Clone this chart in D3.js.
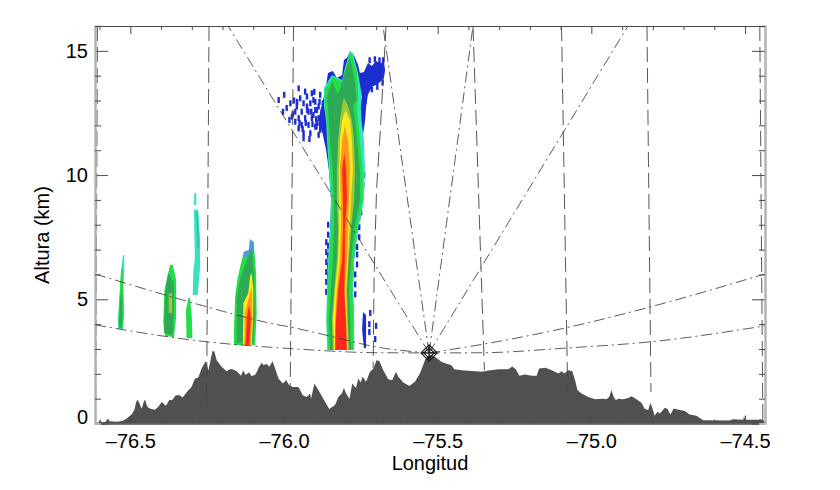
<!DOCTYPE html>
<html><head><meta charset="utf-8">
<script src="https://cdn.jsdelivr.net/npm/d3@7"></script>
<style>html,body{margin:0;background:#fff}svg{display:block}text{font-family:"Liberation Sans",Arial,sans-serif;fill:#000}</style>
</head><body><svg id="c" width="840" height="490"></svg>
<script>
const lonTicks=[-76.5,-76,-75.5,-75,-74.5];
const lonTickLabels=["–76.5","–76.0","–75.5","–75.0","–74.5"];
const altTicks=[0,5,10,15];
const altMinorTicks=[1,2,3,4,6,7,8,9,11,12,13,14,16];
const lonMinorTicks=[-76.6,-76.4,-76.3,-76.2,-76.1,-75.9,-75.8,-75.7,-75.6,-75.4,-75.3,-75.2,-75.1,-74.9,-74.8,-74.7,-74.6];
const xTitle="Longitud", yTitle="Altura (km)";

const terrainLon=[-76.615,-76.604,-76.598,-76.593,-76.580,-76.574,-76.567,-76.550,-76.537,-76.523,-76.512,-76.496,-76.487,-76.481,-76.476,-76.470,-76.463,-76.456,-76.452,-76.447,-76.442,-76.431,-76.420,-76.409,-76.398,-76.391,-76.384,-76.374,-76.363,-76.352,-76.339,-76.330,-76.314,-76.301,-76.290,-76.279,-76.268,-76.255,-76.246,-76.233,-76.227,-76.219,-76.203,-76.187,-76.176,-76.168,-76.154,-76.140,-76.133,-76.125,-76.114,-76.105,-76.092,-76.081,-76.073,
-76.067,-76.056,-76.048,-76.037,-76.029,-76.018,-76.004,-75.993,-75.983,-75.972,-75.953,-75.939,-75.926,-75.915,-75.912,-75.901,-75.888,-75.872,-75.853,-75.834,-75.823,-75.812,-75.805,-75.798,-75.787,-75.778,-75.766,-75.758,-75.751,-75.744,-75.733,-75.720,-75.709,-75.699,-75.690,-75.677,-75.661,-75.648,-75.636,-75.628,-75.612,-75.592,-75.574,-75.558,-75.547,-75.539,-75.525,
-75.508,-75.487,-75.471,-75.456,-75.446,-75.422,-75.400,-75.357,-75.335,-75.302,-75.270,-75.257,-75.246,-75.234,-75.216,-75.194,-75.178,-75.170,-75.149,-75.129,-75.107,-75.097,-75.088,-75.075,-75.062,-75.053,-75.045,-75.032,-75.010,-74.988,
-74.962,-74.951,-74.942,-74.935,-74.927,-74.920,-74.913,-74.897,-74.880,-74.869,-74.853,-74.837,-74.826,-74.815,-74.808,-74.801,-74.794,-74.785,-74.777,-74.770,-74.761,-74.752,-74.743,-74.732,-74.712,-74.696,-74.680,-74.658,-74.636,-74.550,-74.539,-74.506,-74.503,-74.500,-74.463,-74.441,-74.435];
const terrainAlt=[0.04,0.04,0.12,0.05,0.07,0.20,0.09,0.07,0.08,0.12,0.20,0.36,0.54,0.87,0.96,0.80,0.58,0.90,0.96,0.74,0.63,0.58,0.55,0.67,0.87,0.78,0.71,0.94,0.96,1.14,1.14,1.05,1.30,1.47,1.80,1.85,2.21,2.51,2.13,2.91,2.91,2.55,2.28,2.10,2.18,2.18,2.10,1.92,2.13,1.95,2.06,1.90,1.98,2.28,2.45,
2.35,2.40,2.28,2.51,2.21,1.81,1.61,1.74,1.54,1.47,1.47,1.14,1.07,1.21,1.00,1.61,1.34,1.00,0.58,0.74,1.07,1.21,1.43,1.21,1.00,1.61,1.43,1.81,1.65,1.88,1.68,2.08,2.21,2.55,2.52,2.14,1.78,1.74,2.08,1.88,1.65,1.51,1.68,2.01,2.35,2.64,2.77,
2.68,2.48,2.41,2.35,2.18,2.14,2.12,2.08,2.13,2.18,2.18,2.29,2.18,1.92,1.97,1.92,1.92,2.21,2.24,2.14,2.01,2.10,2.01,2.14,2.10,1.74,1.34,1.21,1.07,0.98,
1.00,0.98,1.07,1.34,1.07,0.94,1.00,0.98,1.03,1.10,0.98,0.84,0.58,0.54,0.84,0.60,0.31,0.47,0.40,0.50,0.63,0.58,0.36,0.60,0.54,0.50,0.36,0.31,0.13,0.12,0.17,0.15,0.31,0.15,0.15,0.17,0];

const mainLevels=[2.96,4.17,5.37,6.58,7.79,9.0,10.2,11.4,12.2,12.8];
const tealLeft=[-75.860,-75.863,-75.860,-75.857,-75.850,-75.847,-75.854,-75.860,-75.863,-75.870];
const tealRight=[-75.772,-75.772,-75.776,-75.772,-75.760,-75.740,-75.737,-75.740,-75.748,-75.750];
const tealTop=[[-75.870,13.51],[-75.844,14.03],[-75.811,13.83],[-75.802,14.31],[-75.785,15.0],[-75.776,14.88],[-75.759,14.11],[-75.746,13.15]];
const greenLeft=[-75.857,-75.860,-75.857,-75.854,-75.847,-75.844,-75.850,-75.857,-75.860,-75.867];
const greenRight=[-75.774,-75.774,-75.778,-75.775,-75.763,-75.744,-75.744,-75.753,-75.759,-75.763];
const greenTop=[[-75.867,13.43],[-75.841,13.95],[-75.811,13.75],[-75.802,14.23],[-75.785,14.92],[-75.779,14.84],[-75.763,14.11],[-75.759,13.15]];
const darkLeft=[-75.850,-75.854,-75.847,-75.841,-75.837,-75.837,-75.841,-75.850,-75.854,-75.857];
const darkRight=[-75.782,-75.785,-75.789,-75.782,-75.772,-75.753,-75.753,-75.763,-75.769,-75.776];
const darkTop=[[-75.860,13.15],[-75.844,13.75],[-75.824,13.23],[-75.802,14.11],[-75.785,14.72],[-75.772,13.95],[-75.763,13.02]];
const oliveLeft=[-75.841,-75.844,-75.837,-75.828,-75.824,-75.828,-75.828,-75.824,-75.818,-75.811];
const oliveRight=[-75.789,-75.792,-75.795,-75.789,-75.782,-75.772,-75.769,-75.772,-75.779,-75.792];
const oliveTop=[[-75.805,13.1]];
const yellowLeft=[-75.837,-75.841,-75.834,-75.824,-75.821,-75.821,-75.821,-75.818,-75.811];
const yellowRight=[-75.792,-75.795,-75.798,-75.792,-75.787,-75.782,-75.776,-75.779,-75.785];
const yellowTop=[[-75.800,12.6]];
const orangeLeft=[-75.834,-75.834,-75.828,-75.818,-75.815,-75.815,-75.818,-75.811];
const orangeRight=[-75.797,-75.802,-75.802,-75.795,-75.792,-75.789,-75.785,-75.792];
const orangeTop=[[-75.802,12.0]];
const redLeft=[-75.834,-75.831,-75.824,-75.811,-75.808,-75.808,-75.811];
const redRight=[-75.795,-75.798,-75.804,-75.802,-75.802,-75.795,-75.798];
const redTop=[[-75.804,10.9]];

const anvilBlue=[[-75.857,2.96],[-75.860,5.37],[-75.857,6.58],[-75.850,7.79],[-75.847,9.0],[-75.854,10.21],[-75.863,11.01],[-75.870,11.41],[-75.876,11.74],[-75.889,12.02],[-75.883,12.54],[-75.873,13.02],[-75.863,13.63],[-75.857,14.11],[-75.841,14.19],[-75.828,13.91],[-75.811,14.03],[-75.805,14.63],[-75.795,14.72],[-75.785,14.96],[-75.776,14.88],[-75.769,14.72],[-75.759,14.43],[-75.753,14.11],[-75.740,14.15],[-75.727,14.51],[-75.714,14.39],[-75.701,14.59],[-75.688,14.51],[-75.675,14.55],[-75.671,14.23],[-75.675,13.91],[-75.694,13.67],[-75.714,13.55],[-75.727,13.23],[-75.733,12.74],[-75.736,12.22],[-75.743,11.61],[-75.740,10.21],[-75.743,9.0],[-75.760,7.79],[-75.772,6.58],[-75.776,5.37],[-75.772,4.17],[-75.772,2.96]];
const blueStreak=[[-75.743,4.49],[-75.733,4.37],[-75.733,3.04],[-75.740,3.04],[-75.746,3.76]];
const blueFleckLon=[-76.018,-76.000,-76.004,-75.980,-75.975,-75.983,-75.953,-75.932,-75.948,-75.910,-75.937,-75.915,-75.905,-75.959,-75.964,-75.943,-75.921,-75.899,-75.888,-75.953,-75.932,-75.910,-75.888,-75.964,-75.943,-75.921,-75.899,-75.877,-75.937,-75.915,-75.888,-75.953,-75.883,-75.874,-75.926,-75.937,-75.894,-75.883,-75.905,-75.926,-75.899,-75.894,
-75.992,-75.968,-75.950,-75.930,-75.912,-75.896,-75.958,-75.925,-75.902,-75.940,-75.908,-75.885,-75.972,-75.918,-75.895,
-75.720,-75.723,-75.723,-75.704,-75.701,
-75.863,-75.863,-75.863,-75.863,-75.863,-75.863,-75.857,-75.857,-75.857,-75.857,-75.857,-75.857,-75.857,
-75.769,-75.769,-75.769,-75.763,-75.763,-75.763,-75.756,-75.756,-75.756,-75.750,-75.750,-75.750,-75.743,-75.740,-75.743,
-75.722,-75.705,-75.690,-75.678,-75.715,-75.697,-75.680,-75.735,-75.745];
const blueFleckAlt=[13.02,13.23,12.55,12.89,12.35,12.22,13.49,13.36,13.09,13.29,12.89,12.89,13.02,12.76,12.55,12.55,12.55,12.62,12.76,12.29,12.29,12.29,12.29,12.15,12.02,12.02,11.95,12.55,11.68,11.68,11.62,11.88,13.23,12.89,13.16,11.48,12.09,11.82,12.42,12.76,12.95,12.62,
12.70,13.00,12.10,12.10,12.55,12.25,12.95,12.62,13.35,11.85,12.05,12.95,12.45,11.45,11.95,
4.45,4.0,3.68,3.40,3.93,
5.3,5.7,6.1,6.5,6.9,7.3,5.5,5.95,6.35,6.75,7.15,7.6,8.0,
5.2,5.6,6.0,6.4,6.8,7.1,7.5,7.9,8.3,8.5,8.9,9.2,9.6,10.0,10.4,
14.62,14.66,14.62,14.62,13.45,13.55,13.72,13.0,12.4];

const cellATeal=[[-76.524,6.78],[-76.530,6.18],[-76.533,5.50],[-76.539,4.45],[-76.541,4.17],[-76.539,3.80],[-76.523,3.80],[-76.520,4.45],[-76.523,5.37],[-76.520,6.18],[-76.520,6.78]];
const cellAGreen=[[-76.530,6.18],[-76.533,5.66],[-76.537,4.69],[-76.539,3.89],[-76.525,3.80],[-76.522,4.57],[-76.524,6.2]];
const cellADark=[[-76.531,5.2],[-76.536,4.2],[-76.537,3.85],[-76.527,3.85],[-76.526,5.2]];
const cellBGreen=[[-76.371,6.38],[-76.382,5.78],[-76.389,5.37],[-76.393,4.05],[-76.387,3.52],[-76.358,3.48],[-76.351,4.29],[-76.351,5.78],[-76.362,6.38]];
const cellBDark=[[-76.377,6.06],[-76.387,5.25],[-76.390,3.64],[-76.362,3.56],[-76.358,4.69],[-76.358,5.66]];
const cellBOlive=[[-76.375,5.25],[-76.375,4.45],[-76.364,4.45],[-76.364,5.25]];
const cellCGreen=[[-76.311,5.05],[-76.319,4.57],[-76.317,3.44],[-76.298,3.44],[-76.300,4.29],[-76.306,5.05]];
const cellETop=[[-76.292,9.28],[-76.293,8.80],[-76.285,8.80],[-76.286,9.28]];
const cellETeal=[[-76.293,8.60],[-76.292,7.79],[-76.290,6.70],[-76.295,6.06],[-76.297,5.17],[-76.281,5.17],[-76.273,6.30],[-76.273,7.39],[-76.279,8.60]];
const cellESteel=[[-76.285,8.52],[-76.281,8.52],[-76.277,7.07],[-76.281,7.07]];
const cellDSteel=[[-76.111,7.43],[-76.098,7.31],[-76.098,6.90],[-76.114,6.74],[-76.133,6.66],[-76.132,6.90],[-76.114,6.99]];
const cellDGreen=[[-76.111,7.30],[-76.098,7.20],[-76.091,6.06],[-76.089,4.45],[-76.094,3.16],[-76.163,3.16],[-76.163,3.76],[-76.159,5.09],[-76.152,5.78],[-76.138,6.56],[-76.132,6.80],[-76.114,6.90]];
const cellDDark=[[-76.105,7.07],[-76.098,6.06],[-76.094,4.45],[-76.101,3.24],[-76.154,3.24],[-76.154,4.97],[-76.143,5.78],[-76.121,6.58]];
const cellDYellow=[[-76.105,6.06],[-76.100,5.37],[-76.100,4.45],[-76.105,3.16],[-76.134,3.16],[-76.132,4.85],[-76.116,5.25],[-76.111,5.90]];
const cellDOrange=[[-76.105,5.50],[-76.103,4.45],[-76.108,3.16],[-76.129,3.16],[-76.127,4.45],[-76.114,5.09]];
const cellDRed=[[-76.114,4.77],[-76.108,4.29],[-76.113,3.16],[-76.125,3.16],[-76.121,4.25]];

const radarLon=-75.528, radarAlt=2.84;
const rayEnds=[[-76.182,16],[-75.678,16],[-75.385,16],[-74.881,16]];
const arcUpperLeft=[[-76.615,6.02],[-76.252,4.70],[-76.068,4.10],[-75.948,3.80],[-75.841,3.49],[-75.704,3.09],[-75.528,2.84]];
const arcLowerLeft=[[-76.615,3.97],[-76.252,3.29],[-76.068,3.09],[-75.948,2.99],[-75.704,2.85],[-75.528,2.84]];
const arcUpperRight=[[-75.528,2.84],[-75.349,3.20],[-75.079,3.86],[-74.806,4.70],[-74.435,6.02]];
const arcLowerRight=[[-75.528,2.84],[-75.349,2.85],[-75.079,3.04],[-74.806,3.29],[-74.435,3.93]];
const rangeLines=[
 [[-76.607,16],[-76.613,0.14]],
 [[-76.244,16],[-76.252,0.54]],
 [[-75.969,16],[-75.980,1.27]],
 [[-75.668,16],[-75.688,11.53],[-75.699,9.40],[-75.707,5.78],[-75.710,2.23]],
 [[-75.385,16],[-75.348,2.15]],
 [[-75.097,16],[-75.077,1.27]],
 [[-74.819,16],[-74.806,1.27]],
 [[-74.452,16],[-74.442,0.14]]
];

const blue="#1f2fd0",teal="#35e4bc",green="#22dd44",dark="#2fa955",olive="#a0c830",yellow="#ffe81a",orange="#ff9a1a",red="#ff2a1a",steel="#4aa0d0";

const x=d3.scaleLinear().domain([-76.615,-74.435]).range([95,765]);
const y=d3.scaleLinear().domain([0,16]).range([423.5,26]);
const svg=d3.select("#c");
const defs=svg.append("defs");
defs.append("filter").attr("id","soft").attr("x","-5%").attr("y","-5%").attr("width","110%").attr("height","110%")
  .append("feGaussianBlur").attr("stdDeviation",0.5);
defs.append("clipPath").attr("id","plot").append("rect").attr("x",95).attr("y",26).attr("width",670).attr("height",397.5);

const ringOf=(L,R,top)=>[...L.map((v,i)=>[v,mainLevels[i]]),...top,...R.map((v,i)=>[v,mainLevels[i]]).reverse()];
const poly=d3.line().x(d=>x(d[0])).y(d=>y(d[1]));
const field=[
 [anvilBlue,blue],[blueStreak,blue],
 [ringOf(tealLeft,tealRight,tealTop),teal],
 [ringOf(greenLeft,greenRight,greenTop),green],
 [ringOf(darkLeft,darkRight,darkTop),dark],
 [ringOf(oliveLeft,oliveRight,oliveTop),olive],
 [ringOf(yellowLeft,yellowRight,yellowTop),yellow],
 [ringOf(orangeLeft,orangeRight,orangeTop),orange],
 [ringOf(redLeft,redRight,redTop),red],
 [cellATeal,teal],[cellAGreen,green],[cellADark,dark],
 [cellBGreen,green],[cellBDark,dark],[cellBOlive,olive],
 [cellCGreen,green],
 [cellETop,teal],[cellETeal,teal],[cellESteel,steel],
 [cellDGreen,green],[cellDSteel,steel],[cellDDark,dark],[cellDYellow,yellow],[cellDOrange,orange],[cellDRed,red]
];
const storm=svg.append("g").attr("filter","url(#soft)");
storm.selectAll("rect").data(blueFleckLon).join("rect")
  .attr("x",d=>x(d)-1).attr("y",(d,i)=>y(blueFleckAlt[i])-3).attr("width",2.4).attr("height",6).attr("fill",blue);
storm.selectAll("path").data(field).join("path").attr("d",d=>poly(d[0])+"Z").attr("fill",d=>d[1]);

// terrain
svg.append("path").attr("fill","#505050")
  .attr("d",d3.area().x((d,i)=>x(d)).y0(y(0)).y1((d,i)=>y(terrainAlt[i]))(terrainLon));

const overlay=svg.append("g").attr("clip-path","url(#plot)").attr("fill","none");
overlay.selectAll("path.range").data(rangeLines).join("path").attr("class","range")
  .attr("d",poly).attr("stroke","#444").attr("stroke-width",0.9).attr("stroke-dasharray","15 6");
overlay.selectAll("path.ray").data(rayEnds).join("path").attr("class","ray")
  .attr("d",d=>poly([[radarLon,radarAlt],d])).attr("stroke","#333").attr("stroke-width",0.8).attr("stroke-dasharray","11 4 2 4");
const arcLine=d3.line().x(d=>x(d[0])).y(d=>y(d[1])).curve(d3.curveMonotoneX);
overlay.selectAll("path.arc").data([arcUpperLeft,arcLowerLeft,arcUpperRight,arcLowerRight]).join("path").attr("class","arc")
  .attr("d",arcLine).attr("stroke","#333").attr("stroke-width",0.8).attr("stroke-dasharray","11 4 2 4");

// radar marker
const mark=svg.append("g").attr("transform",`translate(${x(radarLon)},${y(radarAlt)})`).attr("fill","none").attr("stroke","#111").attr("stroke-width",1.1);
[130,55].forEach(s=>mark.append("path").attr("d",d3.symbol(d3.symbolSquare,s)()).attr("transform","rotate(45)"));
mark.append("path").attr("d","M-8,0H8M0,-8V8");

// axes
const fs=20, grey="#b4b4b4", ink="#4a4a4a";
function style(g,domainColor,domainWidth){
  g.selectAll("text").attr("font-size",fs).attr("font-family",'"Liberation Sans",Arial,sans-serif').attr("fill","#000");
  g.selectAll(".tick line").attr("stroke",ink).attr("stroke-width",1);
  g.select(".domain").attr("stroke",domainColor).attr("stroke-width",domainWidth);
}
const labelOf=d=>lonTickLabels[lonTicks.indexOf(d)];
const bottomG=svg.append("g").attr("transform",`translate(0,${y(0)})`)
  .call(d3.axisBottom(x).tickValues(lonTicks).tickFormat(labelOf).tickSizeInner(-8).tickSizeOuter(0).tickPadding(10));
style(bottomG,ink,1);
svg.append("g").attr("transform",`translate(0,${y(0)})`).call(d3.axisBottom(x).tickValues(lonMinorTicks).tickFormat("").tickSize(-4)).call(g=>style(g,ink,1));
const topG=svg.append("g").attr("transform",`translate(0,${y(16)})`).call(d3.axisTop(x).tickValues(lonTicks).tickFormat("").tickSizeInner(-8).tickSizeOuter(0));
style(topG,ink,1);
svg.append("g").attr("transform",`translate(0,${y(16)})`).call(d3.axisTop(x).tickValues(lonMinorTicks).tickFormat("").tickSize(-4)).call(g=>style(g,ink,1));
const leftG=svg.append("g").attr("transform",`translate(${x.range()[0]},0)`)
  .call(d3.axisLeft(y).tickValues(altTicks).tickFormat(d3.format("d")).tickSizeInner(-13).tickSizeOuter(0).tickPadding(7));
style(leftG,grey,2);
leftG.selectAll(".tick text").filter(d=>d===0).attr("transform","translate(0,-6)");
svg.append("g").attr("transform",`translate(${x.range()[0]},0)`).call(d3.axisLeft(y).tickValues(altMinorTicks).tickFormat("").tickSize(-6)).call(g=>style(g,grey,2));
const rightG=svg.append("g").attr("transform",`translate(${x.range()[1]},0)`).call(d3.axisRight(y).tickValues(altTicks).tickFormat("").tickSizeInner(-13).tickSizeOuter(0));
style(rightG,grey,2);
svg.append("g").attr("transform",`translate(${x.range()[1]},0)`).call(d3.axisRight(y).tickValues(altMinorTicks).tickFormat("").tickSize(-6)).call(g=>style(g,grey,2));

svg.append("text").attr("x",430).attr("y",470).attr("text-anchor","middle").attr("font-size",fs).text(xTitle);
svg.append("text").attr("transform","translate(49,235) rotate(-90)").attr("text-anchor","middle").attr("font-size",fs).text(yTitle);
</script></body></html>
